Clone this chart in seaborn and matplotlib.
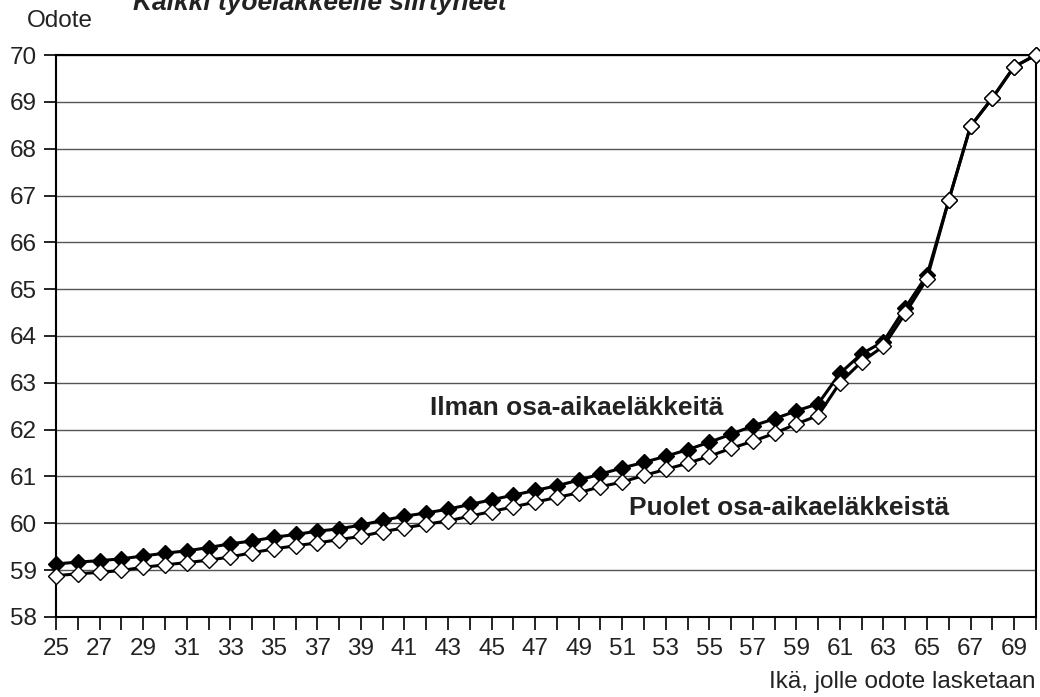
import numpy as np
import pandas as pd
import matplotlib
matplotlib.use('Agg')
import matplotlib.pyplot as plt
import seaborn as sns

# ikä 25..70
ika = list(range(25, 71))

ilman = [59.13, 59.17, 59.20, 59.24, 59.30, 59.36, 59.41, 59.48, 59.56, 59.62,
         59.70, 59.76, 59.83, 59.88, 59.96, 60.06, 60.15, 60.22, 60.30, 60.40,
         60.50, 60.60, 60.70, 60.80, 60.92, 61.05, 61.18, 61.30, 61.43, 61.57,
         61.73, 61.90, 62.08, 62.23, 62.40, 62.55, 63.20, 63.62, 63.88, 64.60,
         65.30, 66.90, 68.48, 69.08, 69.75, 70.00]

puolet = [58.88, 58.92, 58.95, 58.99, 59.06, 59.11, 59.16, 59.21, 59.28, 59.37,
          59.45, 59.52, 59.58, 59.65, 59.72, 59.82, 59.90, 59.98, 60.05, 60.15,
          60.25, 60.35, 60.45, 60.55, 60.65, 60.78, 60.88, 61.02, 61.15, 61.28,
          61.43, 61.60, 61.75, 61.92, 62.12, 62.30, 63.00, 63.45, 63.78, 64.48,
          65.22, 66.90, 68.48, 69.08, 69.75, 70.00]

df = pd.DataFrame({'ika': ika, 'ilman': ilman, 'puolet': puolet})

sns.set_style('white')
plt.rcParams['font.family'] = ['Liberation Sans', 'DejaVu Sans']

fig = plt.figure(figsize=(10.4, 6.97), dpi=100)
ax = fig.add_axes([0.054, 0.115, 0.942, 0.806])

sns.lineplot(data=df, x='ika', y='ilman', ax=ax, color='black', linewidth=2.2,
             marker='D', markersize=8, markerfacecolor='black',
             markeredgecolor='black', markeredgewidth=1.0, zorder=3, clip_on=False)
sns.lineplot(data=df, x='ika', y='puolet', ax=ax, color='black', linewidth=2.2,
             marker='D', markersize=8, markerfacecolor='white',
             markeredgecolor='black', markeredgewidth=1.0, zorder=4, clip_on=False)

ax.set_xlim(25, 70)
ax.set_ylim(58, 70)
ax.set_yticks(range(58, 71))
ax.set_xticks(range(25, 71))
ax.set_xticklabels([str(v) if (v - 25) % 2 == 0 and v < 70 else '' for v in ika])
ax.yaxis.grid(True, color='#555555', linewidth=1.0)
ax.xaxis.grid(False)
ax.set_axisbelow(True)

for s in ax.spines.values():
    s.set_visible(True)
    s.set_color('black')
    s.set_linewidth(1.5)

ax.tick_params(axis='both', direction='out', length=9, width=1.2, color='black',
               labelsize=17.5, labelcolor='#222222', bottom=True, left=True)
ax.tick_params(axis='x', pad=6)
ax.tick_params(axis='y', pad=5)

ax.set_xlabel('')
ax.set_ylabel('')

fig.text(0.026, 0.961, 'Odote', fontsize=17.5, color='#222222', ha='left', va='baseline')
fig.text(0.128, 0.9857, 'Kaikki työeläkkeelle siirtyneet', fontsize=19,
         fontweight='bold', fontstyle='italic', color='#222222', ha='left', va='baseline')
fig.text(0.996, 0.013, 'Ikä, jolle odote lasketaan', fontsize=17.5, color='#222222',
         ha='right', va='baseline')

ax.text(42.15, 62.46, 'Ilman osa-aikaeläkkeitä', fontsize=19, fontweight='bold',
        color='#222222', ha='left', va='center')
ax.text(51.3, 60.33, 'Puolet osa-aikaeläkkeistä', fontsize=19, fontweight='bold',
        color='#222222', ha='left', va='center')

fig.savefig('out.png', dpi=100)
